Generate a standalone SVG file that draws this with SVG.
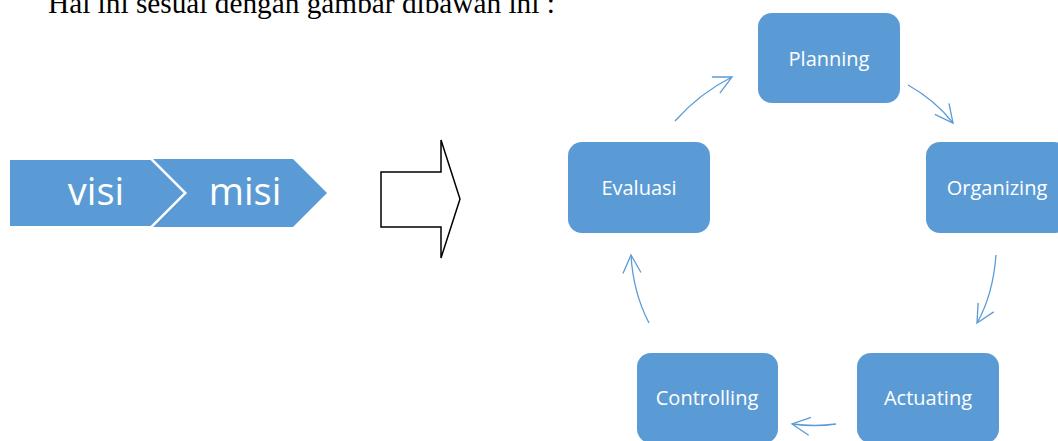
<svg xmlns="http://www.w3.org/2000/svg" width="1058" height="441" viewBox="0 0 1058 441">
<style>
.box{fill:#5B9BD5;}
.lbl{font-family:"Open Sans","Noto Sans",sans-serif;font-size:20px;fill:#fff;text-anchor:middle;dominant-baseline:central;}
.big{font-family:"Open Sans","Noto Sans",sans-serif;font-size:38px;fill:#fff;text-anchor:middle;dominant-baseline:central;}
.hdr{font-family:"Liberation Serif","Times New Roman",serif;font-size:29.3px;fill:#000;}
.conn{fill:none;stroke:#5B9BD5;stroke-width:1.3;marker-end:url(#ah);}
</style>
<defs>
<marker id="ah" markerUnits="userSpaceOnUse" viewBox="-22 -12 26 24" refX="0" refY="0" markerWidth="26" markerHeight="24" orient="auto">
<path d="M-18,-9 L0,0 L-18,9" fill="none" stroke="#5B9BD5" stroke-width="1.3"/>
</marker>
</defs>
<rect width="1058" height="441" fill="#fff"/>
<text class="hdr" x="48" y="13">Hal ini sesuai dengan gambar dibawah ini :</text>
<g id="misi">
<polygon class="box" points="153,159 293,159 327,193 293,227 153,227 187,193"/>
<text class="big" x="245" y="190">misi</text>
</g>
<g id="visi">
<polygon class="box" points="9,159 151,159 185,193 151,227 9,227" stroke="#fff" stroke-width="2"/>
<text class="big" x="96" y="190">visi</text>
</g>
<g id="block-arrow">
<polygon points="381,172 441,172 441,140 460,199 441,258 441,227 381,227" fill="#fff" stroke="#000" stroke-width="1.5"/>
</g>
<g id="planning"><rect class="box" x="758" y="13" width="142" height="90" rx="14"/><text class="lbl" x="829" y="58">Planning</text></g>
<g id="organizing"><rect class="box" x="926" y="142" width="142" height="91" rx="14"/><text class="lbl" x="997" y="187">Organizing</text></g>
<g id="actuating"><rect class="box" x="857" y="353" width="142" height="90" rx="14"/><text class="lbl" x="928" y="397">Actuating</text></g>
<g id="controlling"><rect class="box" x="637" y="353" width="141" height="90" rx="14"/><text class="lbl" x="707" y="397">Controlling</text></g>
<g id="evaluasi"><rect class="box" x="568" y="142" width="142" height="91" rx="14"/><text class="lbl" x="639" y="187">Evaluasi</text></g>
<g id="connectors">
<path class="conn" d="M675,121 Q700,93 732,77"/>
<path class="conn" d="M908,85 Q935,100 953,123"/>
<path class="conn" d="M996,255 Q993,295 977,323"/>
<path class="conn" d="M836,424 Q815,427 792,424"/>
<path class="conn" d="M649,323 Q633,292 631,255"/>
</g>
</svg>
